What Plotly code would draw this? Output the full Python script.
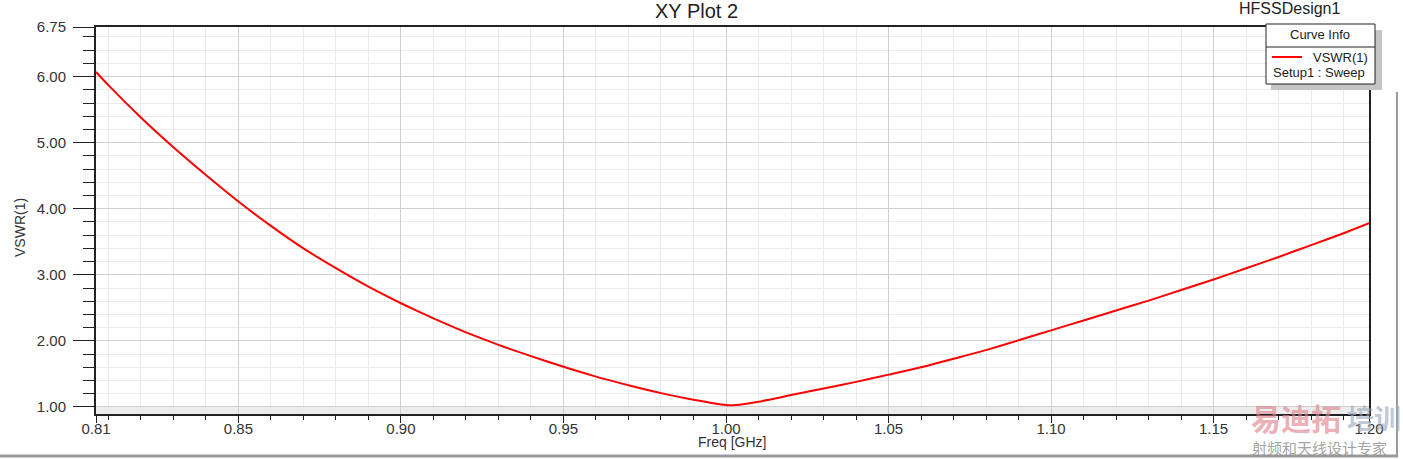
import plotly.graph_objects as go

# VSWR(1) curve
freq_ghz = [0.8062, 0.81, 0.82, 0.83, 0.84, 0.85, 0.86, 0.87, 0.88, 0.89,
            0.90, 0.91, 0.92, 0.93, 0.94, 0.95, 0.96, 0.97, 0.98, 0.99,
            1.00, 1.003, 1.01, 1.02, 1.03, 1.04, 1.05, 1.06, 1.07, 1.08,
            1.09, 1.10, 1.11, 1.12, 1.13, 1.14, 1.15, 1.16, 1.17, 1.18,
            1.19, 1.1978]
vswr = [6.07, 5.87, 5.38, 4.93, 4.51, 4.11, 3.74, 3.40, 3.10, 2.82,
        2.57, 2.34, 2.13, 1.94, 1.77, 1.61, 1.46, 1.33, 1.21, 1.11,
        1.03, 1.03, 1.08, 1.18, 1.28, 1.38, 1.49, 1.60, 1.73, 1.86,
        2.01, 2.16, 2.31, 2.46, 2.61, 2.77, 2.93, 3.10, 3.27, 3.45,
        3.63, 3.78]

x_range = [0.8062, 1.1978]
x_ticks = [0.8062, 0.85, 0.90, 0.95, 1.00, 1.05, 1.10, 1.15, 1.1978]
x_labels = ["0.81", "0.85", "0.90", "0.95", "1.00", "1.05", "1.10", "1.15", "1.20"]
y_range = [0.894, 6.75]
y_ticks = [1, 2, 3, 4, 5, 6, 6.75]
y_labels = ["1.00", "2.00", "3.00", "4.00", "5.00", "6.00", "6.75"]

FONT = "Arial, Liberation Sans, sans-serif"
CJK = "Noto Sans CJK SC"
W, H = 1403, 459
L, R, T, B = 96, 34, 27, 45


# pixel -> paper helpers for the decorations around the plot
def px(x):
    return (x - L) / (W - L - R)


def py(y):
    return (H - B - y) / (H - T - B)


def label(text, x, y, size, color="#222", family=FONT, xanchor="center", **kw):
    return dict(text=text, x=px(x), y=py(y), xref="paper", yref="paper",
                xanchor=xanchor, yanchor="middle", showarrow=False,
                font=dict(family=family, size=size, color=color), **kw)


fig = go.Figure()

fig.add_trace(go.Scatter(
    x=freq_ghz, y=vswr, mode="lines", name="VSWR(1)",
    line=dict(color="#ff0000", width=2, shape="spline", smoothing=0.5),
    showlegend=False,
))

shapes = [
    # light band below 1.00
    dict(type="rect", xref="x", yref="y", x0=x_range[0], x1=x_range[1],
         y0=y_range[0], y1=1.0, fillcolor="#ececec", line_width=0, layer="below"),
    # window edges
    dict(type="line", xref="paper", yref="paper", x0=px(0), x1=px(1398),
         y0=py(456), y1=py(456), line=dict(color="#9a9a9a", width=3)),
    dict(type="line", xref="paper", yref="paper", x0=px(1397), x1=px(1397),
         y0=py(92), y1=py(456), line=dict(color="#9a9a9a", width=2)),
    # curve info box: shadow, box, separator, sample line
    dict(type="rect", xref="paper", yref="paper", x0=px(1271), x1=px(1382),
         y0=py(30), y1=py(90), fillcolor="#c4c4c4", line_width=0),
    dict(type="rect", xref="paper", yref="paper", x0=px(1266), x1=px(1375),
         y0=py(24), y1=py(84), fillcolor="white", line=dict(color="#222", width=1)),
    dict(type="line", xref="paper", yref="paper", x0=px(1266), x1=px(1375),
         y0=py(47), y1=py(47), line=dict(color="#222", width=1)),
    dict(type="line", xref="paper", yref="paper", x0=px(1272), x1=px(1302),
         y0=py(57), y1=py(57), line=dict(color="#ff0000", width=2)),
]

annotations = [
    label("XY Plot 2", 696, 11, 20),
    label("HFSSDesign1", 1289, 9, 16),
    label("Freq [GHz]", 732, 442, 14, "#333"),
    label("VSWR(1)", 20, 228, 14, "#333", textangle=-90),
    label("Curve Info", 1320, 35, 13),
    label("VSWR(1)", 1311, 57, 13, xanchor="left"),
    label("Setup1 : Sweep", 1271, 72, 13, xanchor="left"),
    # watermark
    label("<b>易迪拓</b>", 1249, 417, 30, "rgba(225,130,140,0.65)", CJK, xanchor="left"),
    label("<b>培训</b>", 1345, 417, 27, "rgba(150,165,185,0.6)", CJK, xanchor="left"),
    label("射频和天线设计专家", 1250, 447, 15, "rgba(140,140,140,0.8)", CJK, xanchor="left"),
]

fig.update_layout(
    width=W, height=H,
    margin=dict(l=L, r=R, t=T, b=B),
    paper_bgcolor="white",
    plot_bgcolor="white",
    font=dict(family=FONT, size=14, color="#333"),
    shapes=shapes,
    annotations=annotations,
)

fig.update_xaxes(
    range=x_range, tickmode="array", tickvals=x_ticks, ticktext=x_labels,
    showline=True, linecolor="#222", linewidth=2, mirror=True,
    ticks="outside", ticklen=7, tickcolor="#222", tickwidth=1,
    showgrid=True, gridcolor="#cfcfcf", gridwidth=1, zeroline=False,
    tickfont=dict(family=FONT, size=15, color="#333"),
    ticklabelstandoff=-7,
    minor=dict(tickmode="linear", tick0=0.8, dtick=0.01, ticks="outside", ticklen=4,
               tickcolor="#222", showgrid=True, gridcolor="#ebebeb", gridwidth=1),
)
fig.update_yaxes(
    range=y_range, tickmode="array", tickvals=y_ticks, ticktext=y_labels,
    showline=True, linecolor="#222", linewidth=2, mirror=True,
    ticks="outside", ticklen=21, tickcolor="#222", tickwidth=1,
    showgrid=True, gridcolor="#cfcfcf", gridwidth=1, zeroline=False,
    tickfont=dict(family=FONT, size=15, color="#333"),
    ticklabelstandoff=4,
    minor=dict(tickmode="linear", tick0=0, dtick=0.2, ticks="outside", ticklen=11,
               tickcolor="#222", showgrid=True, gridcolor="#ebebeb", gridwidth=1),
)

fig.write_html("out.html", config={"displayModeBar": False},
               post_script="document.body.style.margin='0';")
